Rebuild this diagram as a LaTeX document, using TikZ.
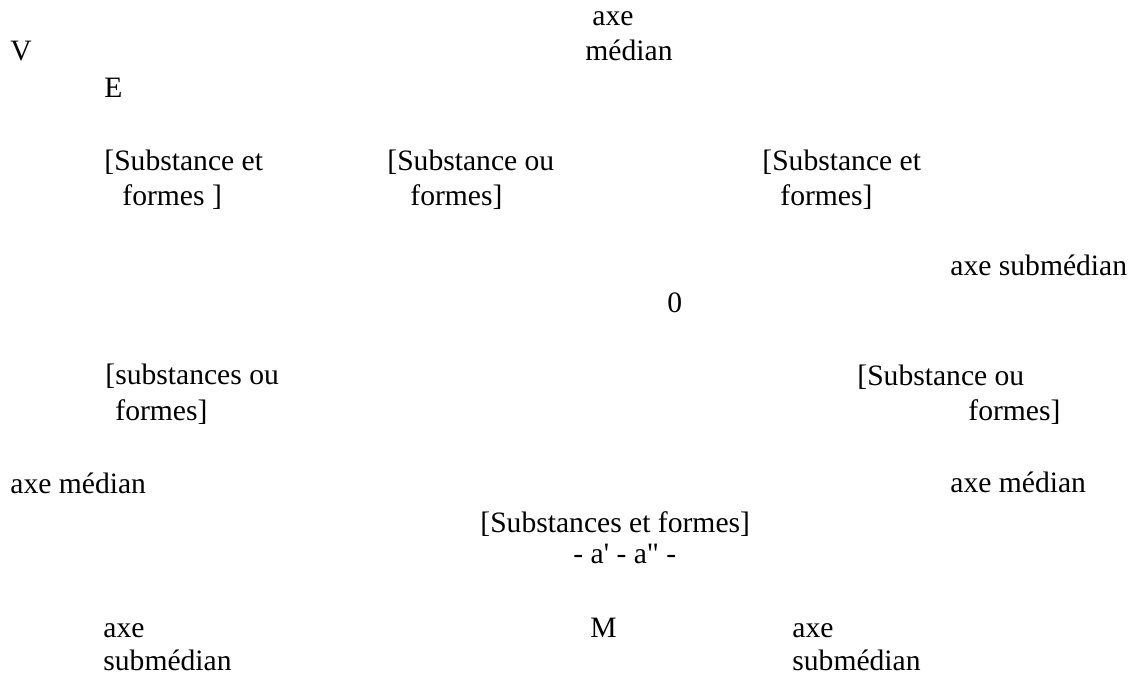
\documentclass[tikz,border=0pt]{standalone}
\usepackage{fontspec}
\setmainfont{Liberation Serif}
\begin{document}
\begin{tikzpicture}[
    x=0.5pt, y=-0.5pt,
    lbl/.style={anchor=base west, inner sep=0pt, font=\fontsize{14.8}{17}\selectfont}
]
\useasboundingbox (0,0) rectangle (1134,675);

% top
\node[lbl] (axeTop) at (592,25) {axe};
\node[lbl] (medTop) at (585,60) {médian};
\node[lbl] (V) at (10,60) {V};
\node[lbl] (E) at (104,97) {E};

% upper row
\node[lbl] (seLa) at (104,170) {[Substance et};
\node[lbl] (seLb) at (122,205) {formes ]};
\node[lbl] (soMa) at (387,170) {[Substance ou};
\node[lbl] (soMb) at (410,205) {formes]};
\node[lbl] (seRa) at (762,170) {[Substance et};
\node[lbl] (seRb) at (780,205) {formes]};

% middle
\node[lbl] (subR) at (950,275) {axe submédian};
\node[lbl] (zero) at (667,312) {0};
\node[lbl] (soLa) at (105,384) {[substances ou};
\node[lbl] (soLb) at (115,420) {formes]};
\node[lbl] (soRa) at (857,385) {[Substance ou};
\node[lbl] (soRb) at (968,420) {formes]};
\node[lbl] (medL) at (10,493) {axe médian};
\node[lbl] (medR) at (950,492) {axe médian};

% lower
\node[lbl] (sef) at (480,532) {[Substances et formes]};
\node[lbl] (aa) at (573,563) {- a\textquotesingle{} - a\textquotedbl{} -};
\node[lbl] (subLa) at (103,637) {axe};
\node[lbl] (subLb) at (103,670) {submédian};
\node[lbl] (M) at (590,637) {M};
\node[lbl] (subRa) at (792,637) {axe};
\node[lbl] (subRb) at (792,670) {submédian};
\end{tikzpicture}
\end{document}
